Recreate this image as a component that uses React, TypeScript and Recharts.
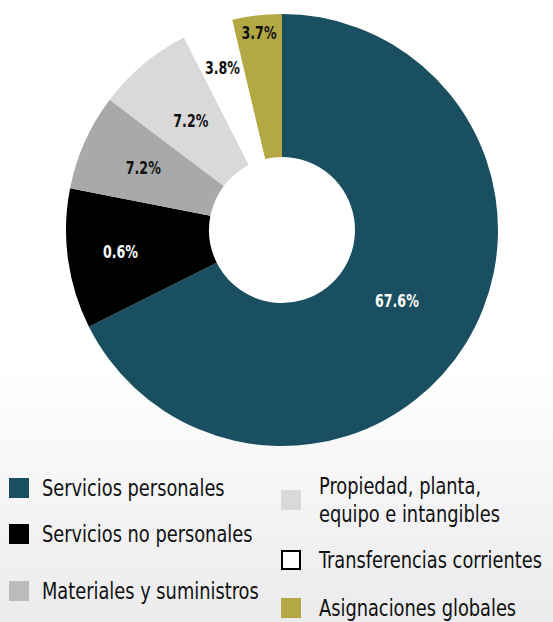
import { Cell, Pie, PieChart } from "recharts";

const categories = [
  "Servicios personales",
  "Servicios no personales",
  "Materiales y suministros",
  "Propiedad, planta, equipo e intangibles",
  "Transferencias corrientes",
  "Asignaciones globales",
];

// share of each slice (%), clockwise from the top
const shares = [67.6, 10.5, 7.2, 7.2, 3.8, 3.7];

// printed labels as they appear in the source
const sliceLabels = ["67.6%", "0.6%", "7.2%", "7.2%", "3.8%", "3.7%"];

const sliceColors = ["#1a4f61", "#000000", "#a9a9a9", "#d9d9d9", "#ffffff", "#b3a843"];
const legendColors = ["#1a4f61", "#000000", "#bcbcbc", "#d9d9d9", "#ffffff", "#b3a843"];
const labelColors = ["#ffffff", "#ffffff", "#111111", "#111111", "#111111", "#111111"];
const labelRadius = [135, 163, 152, 142, 173, 198];

const FONT = "'DejaVu Sans Condensed', 'Liberation Sans Narrow', sans-serif";
const RAD = Math.PI / 180;

const data = categories.map((name, i) => ({ name, value: shares[i] }));

// legend placement: [left, centerY, gap to text] for each item
const legendSpots: Array<[number, number, number]> = [
  [9, 488, 13],
  [9, 534, 13],
  [9, 591, 13],
  [281, 500, 18],
  [281, 560, 18],
  [281, 608, 18],
];

type LabelProps = {
  cx: number;
  cy: number;
  midAngle: number;
  index: number;
};

function SliceLabel({ cx, cy, midAngle, index }: LabelProps) {
  const r = labelRadius[index];
  const x = cx + r * Math.cos(-midAngle * RAD);
  const y = cy + r * Math.sin(-midAngle * RAD);
  return (
    <text
      transform={`translate(${x},${y}) scale(0.78,1)`}
      fill={labelColors[index]}
      textAnchor="middle"
      dominantBaseline="central"
      fontFamily={FONT}
      fontWeight="bold"
      fontSize={18}
    >
      {sliceLabels[index]}
    </text>
  );
}

function LegendBlock() {
  return (
    <>
      {categories.map((name, i) => {
        const [left, cy, gap] = legendSpots[i];
        const wrapped = i === 3 ? "Propiedad, planta,\nequipo e intangibles" : name;
        return (
          <div
            key={name}
            style={{
              position: "absolute",
              left,
              top: cy,
              transform: "translateY(-50%)",
              display: "flex",
              alignItems: "center",
            }}
          >
            <div
              style={{
                width: 20,
                height: 20,
                boxSizing: "border-box",
                background: legendColors[i],
                border: i === 4 ? "2.5px solid #000" : "none",
                flexShrink: 0,
              }}
            />
            <div
              style={{
                marginLeft: gap,
                fontFamily: FONT,
                fontSize: 23,
                lineHeight: "28px",
                color: "#111",
                whiteSpace: "pre",
                transform: "scaleX(0.86)",
                transformOrigin: "left center",
              }}
            >
              {wrapped}
            </div>
          </div>
        );
      })}
    </>
  );
}

export default function App() {
  return (
    <>
      <style>{"body{margin:0}"}</style>
      <div
        style={{
          position: "relative",
          width: 553,
          height: 622,
          overflow: "hidden",
          background: "linear-gradient(to bottom, #ffffff 0%, #ffffff 58%, #ebebed 100%)",
        }}
      >
        <PieChart width={553} height={460} margin={{ top: 0, right: 0, bottom: 0, left: 0 }}>
          <Pie
            data={data}
            dataKey="value"
            nameKey="name"
            cx={282}
            cy={230}
            innerRadius={73}
            outerRadius={216}
            startAngle={90}
            endAngle={-270}
            stroke="none"
            labelLine={false}
            label={SliceLabel}
            isAnimationActive={false}
          >
            {data.map((d, i) => (
              <Cell key={d.name} fill={sliceColors[i]} />
            ))}
          </Pie>
        </PieChart>
        <LegendBlock />
      </div>
    </>
  );
}
